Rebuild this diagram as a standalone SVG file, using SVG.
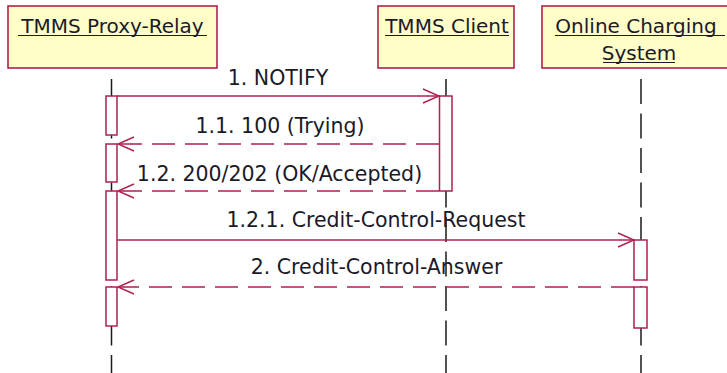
<svg xmlns="http://www.w3.org/2000/svg" width="727" height="373" viewBox="0 0 727 373">
<style>
.box{fill:#fffdc8;stroke:#b02050;stroke-width:1.6}
.act{fill:#ffffff;stroke:#b02050;stroke-width:1.5}
.life{stroke:#1a1a1a;stroke-width:1.5;stroke-dasharray:25 9.5;fill:none}
.msg{stroke:#b02050;stroke-width:1.4;fill:none}
.dash{stroke-dasharray:23 10}
.head{stroke:#b02050;stroke-width:1.4;fill:none}
.t{font-family:"DejaVu Sans",Verdana,sans-serif;font-size:20.5px;fill:#1a1a2a}
.h{font-family:"DejaVu Sans",Verdana,sans-serif;font-size:20px;fill:#1a1a2a;text-anchor:middle}
.ul{stroke:#1a1a2a;stroke-width:1.2}
</style>
<rect width="727" height="373" fill="#ffffff"/>
<g id="proxy">
  <rect class="box" x="8" y="6" width="209" height="62"/>
  <text class="h" x="112.5" y="33">TMMS Proxy-Relay</text>
  <line class="ul" x1="18" y1="35.5" x2="207" y2="35.5"/>
  <line class="life" x1="111.5" y1="79" x2="111.5" y2="373"/>
  <rect class="act" x="106" y="96" width="11" height="39"/>
  <rect class="act" x="106" y="144" width="11" height="38"/>
  <rect class="act" x="106" y="191" width="11" height="89"/>
  <rect class="act" x="106" y="287" width="11" height="39"/>
</g>
<g id="client">
  <rect class="box" x="378" y="6" width="136" height="62"/>
  <text class="h" x="447" y="33">TMMS Client</text>
  <line class="ul" x1="385" y1="35.5" x2="509" y2="35.5"/>
  <line class="life" x1="446" y1="79" x2="446" y2="373"/>
  <rect class="act" x="439.5" y="96" width="12.5" height="95"/>
</g>
<g id="ocs">
  <rect class="box" x="542" y="6" width="200" height="62"/>
  <text class="h" x="636" y="33">Online Charging</text>
  <line class="ul" x1="555" y1="35.5" x2="725" y2="35.5"/>
  <text class="h" x="639" y="60">System</text>
  <line class="ul" x1="603" y1="62.5" x2="675" y2="62.5"/>
  <line class="life" x1="641" y1="79" x2="641" y2="373"/>
  <rect class="act" x="634" y="240" width="13" height="40"/>
  <rect class="act" x="634" y="287" width="13" height="41"/>
</g>
<g id="connectors">
  <line class="msg" x1="117" y1="96" x2="439" y2="96"/>
  <polyline class="head" points="423,89 439,96 423,103"/>
  <text class="t" x="278" y="85" text-anchor="middle">1. NOTIFY</text>

  <line class="msg dash" x1="439" y1="144" x2="118" y2="144"/>
  <polyline class="head" points="134,137 118,144 134,151"/>
  <text class="t" x="280" y="133" text-anchor="middle">1.1. 100 (Trying)</text>

  <line class="msg dash" x1="439" y1="191" x2="118" y2="191"/>
  <polyline class="head" points="134,184 118,191 134,198"/>
  <text class="t" x="279.5" y="181" text-anchor="middle">1.2. 200/202 (OK/Accepted)</text>

  <line class="msg" x1="117" y1="240" x2="634" y2="240"/>
  <polyline class="head" points="618,233 634,240 618,247"/>
  <text class="t" x="376" y="227" text-anchor="middle">1.2.1. Credit-Control-Request</text>

  <line class="msg dash" x1="634" y1="287" x2="118" y2="287"/>
  <polyline class="head" points="134,280 118,287 134,294"/>
  <text class="t" x="376.5" y="274" text-anchor="middle">2. Credit-Control-Answer</text>
</g>
</svg>
